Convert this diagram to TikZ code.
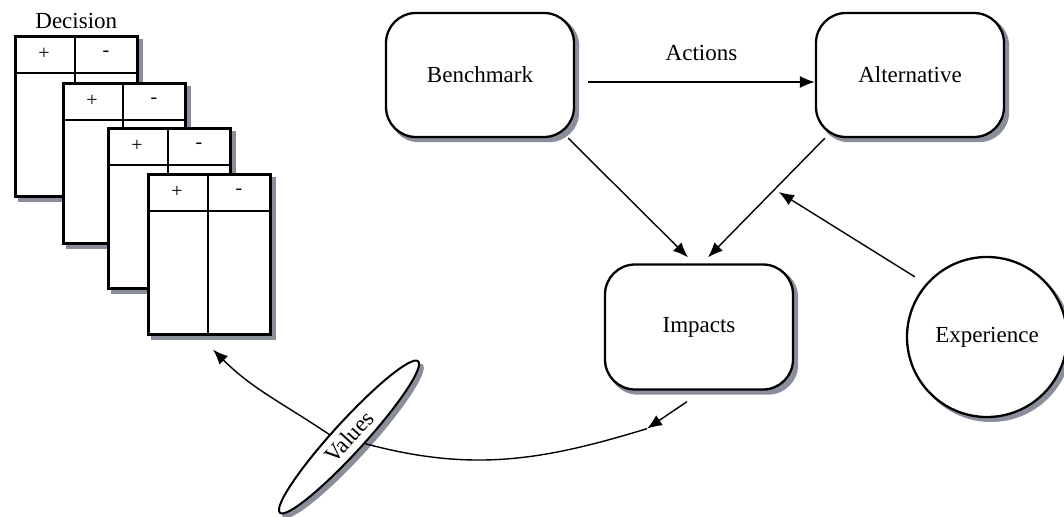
\documentclass[tikz,border=0pt]{standalone}
\usepackage{fontspec}
\setmainfont{Liberation Serif}
\usetikzlibrary{positioning,shapes.geometric,arrows.meta,backgrounds}
\definecolor{shadowgray}{RGB}{138,142,155}
\newcommand{\boxw}{188pt}
\newcommand{\boxh}{124pt}

\begin{document}
\begin{tikzpicture}[x=1pt, y=1pt,
    font=\fontsize{23}{27}\selectfont,
    boxshadow/.style={fill=shadowgray, draw=none},
    rbox/.style={draw, line width=2.3pt, rectangle, rounded corners=30pt, minimum width=\boxw, minimum height=\boxh, fill=white},
    dtable/.style={draw, line width=2.6pt, rectangle, anchor=north west, minimum width=122pt, minimum height=160pt, inner sep=0pt, fill=white},
    sign/.style={font=\fontsize{20}{24}\selectfont},
    link/.style={line width=1.4pt, -{Latex[length=15pt, width=12pt]}}]

    \useasboundingbox (0,0) rectangle (1064,-516);

    % Decision tables
    \foreach \i/\x/\y in {1/14/35, 2/62/82, 3/107/127, 4/147/173} {
        \node[dtable] (dec-\i) at (\x,-\y) {};
        \draw[line width=1.3pt] ([yshift=-38pt]dec-\i.north west) -- ([yshift=-38pt]dec-\i.north east);
        \draw[line width=1.3pt] ([xshift=61pt]dec-\i.north west) -- ([xshift=61pt]dec-\i.south west);
        \node[sign] (plus-\i) at ([shift={(30pt,-19pt)}]dec-\i.north west) {+};
        \node[sign] (minus-\i) at ([shift={(92pt,-19pt)}]dec-\i.north west) {-};
        \begin{pgfonlayer}{background}
            \fill[boxshadow] ([shift={(4pt,-4pt)}]dec-\i.south west) rectangle ([shift={(4pt,-4pt)}]dec-\i.north east);
        \end{pgfonlayer}
    }
    \node[above=3pt of dec-1] (decision) {Decision};

    % Main nodes
    \node[rbox] (bench) at (480,-75) {Benchmark};
    \node[rbox] (alt) at (910,-75) {Alternative};
    \node[rbox, minimum height=125pt] (imp) at (699,-327) {Impacts};
    \node[draw, circle, line width=2.3pt, minimum size=160pt, fill=white] (exp) at (987,-337) {Experience};
    \node[draw, ellipse, line width=2pt, minimum width=205pt, minimum height=31pt, inner sep=0pt,
          rotate=47.6, fill=white] (values) at (349,-437) {Values};

    % Shadows
    \coordinate (values-sh) at ([shift={(4pt,-4pt)}]values.center);
    \begin{pgfonlayer}{background}
        \foreach \n in {bench, alt, imp} {
            \fill[boxshadow, rounded corners=30pt] ([shift={(4pt,-4pt)}]\n.south west) rectangle ([shift={(4pt,-4pt)}]\n.north east);
        }
        \fill[boxshadow] ([shift={(4pt,-4pt)}]exp.center) circle (81pt);
        \fill[boxshadow, rotate around={47.6:(values-sh)}] (values-sh) ellipse (103.5pt and 16.5pt);
    \end{pgfonlayer}

    % Connectors
    \draw[link] ([shift={(13pt,-7pt)}]bench.east) -- ([yshift=-7pt]alt.west)
        node[midway, yshift=29pt] (actions) {Actions};
    \draw[link] ([xshift=-7pt]bench.south east) -- ([shift={(-11pt,6pt)}]imp.north);
    \draw[link] ([xshift=10pt]alt.south west) -- ([shift={(9pt,6pt)}]imp.north)
        coordinate[pos=0.43] (infl);
    \draw[link, shorten >=5pt] ([shift={(-10pt,8pt)}]exp.140) -- (infl);

    % Values loop
    \draw[link] (values.125) to[out=146, in=-45] ([shift={(66pt,-14pt)}]dec-4.south west);
    \coordinate (imp-out) at ([shift={(-12pt,-11pt)}]imp.south);
    \coordinate (tip) at ([shift={(-52pt,-38pt)}]imp.south);
    \draw[link] (imp-out) -- (tip);
    \draw[line width=1.4pt] (tip) to[out=197, in=-15] (values.-70);

\end{tikzpicture}
\end{document}
